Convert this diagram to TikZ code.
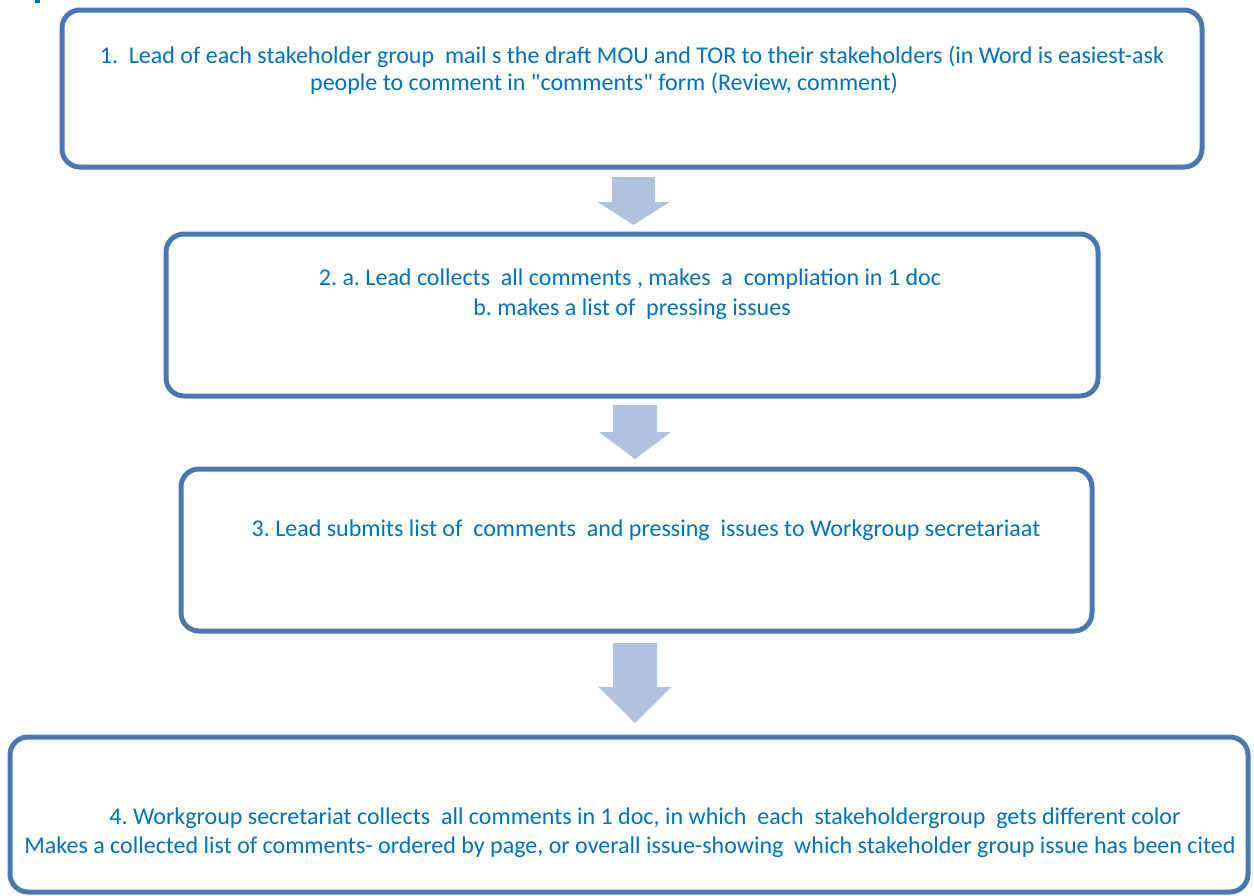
\documentclass[tikz,border=0pt]{standalone}
\usepackage{fontspec}
\setmainfont{Carlito}[Ligatures=TeXOff]
\frenchspacing
\definecolor{boxline}{HTML}{4A77B0}
\definecolor{arrowfill}{HTML}{B1C2DF}
\definecolor{txt}{HTML}{0070C0}
\newcommand\bArrow[6]{% cx, shaft half width, head half width, top, head top, tip
  \fill[arrowfill] (#1-#2,#4) -- (#1+#2,#4) -- (#1+#2,#5) -- (#1+#3,#5) -- (#1,#6) -- (#1-#3,#5) -- (#1-#2,#5) -- cycle;}
\begin{document}
\begin{tikzpicture}[x=1pt,y=-1pt,
  stepbox/.style={draw=boxline, line width=5pt, rounded corners=18pt, rectangle, inner sep=0pt, outer sep=0pt},
  steptext/.style={text=txt, font=\fontsize{24}{28}\selectfont, inner sep=0pt, anchor=center}]
\useasboundingbox (0,0) rectangle (1254,895);
\fill[txt] (35,0) rectangle (40,3);
% boxes
\node[stepbox, minimum width=1140pt, minimum height=157pt] (b1) at (632,88.5) {};
\node[stepbox, minimum width=932pt, minimum height=162pt] (b2) at (632,315) {};
\node[stepbox, minimum width=911pt, minimum height=162pt] (b3) at (636.5,550) {};
\node[stepbox, minimum width=1238pt, minimum height=155pt] (b4) at (629,814.5) {};
% arrows
\bArrow{633.5}{21.5}{36}{177}{202}{225}
\bArrow{635}{22}{36}{405}{432}{459}
\bArrow{635}{22}{36.5}{643}{687}{723}
% texts
\node[steptext] (t1a) at (632,57) {1.\ \ Lead of each stakeholder group\ \ mail s the draft MOU and TOR to their stakeholders (in Word is easiest-ask};
\node[steptext] (t1b) at (604,84) {people to comment in "comments" form (Review, comment)};
\node[steptext] (t2a) at (630,279) {2. a. Lead collects\ \ all comments , makes\ \ a\ \ compliation in 1 doc};
\node[steptext] (t2b) at (632,309) {b. makes a list of\ \ pressing issues};
\node[steptext] (t3) at (646,530) {3. Lead submits list of\ \ comments\ \ and pressing\ \ issues to Workgroup secretariaat};
\node[steptext] (t4a) at (645,818) {4. Workgroup secretariat collects\ \ all comments in 1 doc, in which\ \ each\ \ stakeholdergroup\ \ gets different color};
\node[steptext] (t4b) at (630,847) {Makes a collected list of comments- ordered by page, or overall issue-showing\ \ which stakeholder group issue has been cited};
\end{tikzpicture}
\end{document}
